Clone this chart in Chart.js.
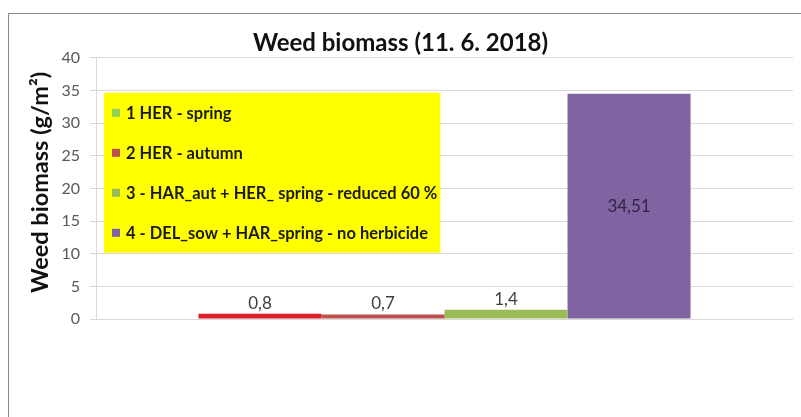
<!DOCTYPE html>
<html>
<head>
<meta charset="utf-8">
<script src="https://cdn.jsdelivr.net/npm/chart.js@4"></script>
<style>
html,body{margin:0;padding:0;background:#fff;}
#wrap{width:801px;height:417px;position:relative;}
</style>
</head>
<body>
<div id="wrap"><canvas id="c" width="801" height="417"></canvas></div>
<script>
const chartTitle = 'Weed biomass (11. 6. 2018)';
const yAxisTitle = 'Weed biomass (g/m²)';
const categories = [''];
const seriesNames = [
  '1 HER - spring',
  '2 HER - autumn',
  '3 - HAR_aut + HER_ spring - reduced 60 %',
  '4 - DEL_sow + HAR_spring - no herbicide'
];
const seriesValues = [0.8, 0.7, 1.4, 34.51];
const valueLabels = ['0,8', '0,7', '1,4', '34,51'];
const barColors = ['#dc1f26', '#c0504d', '#9bbb59', '#8064a2'];
const legendColors = ['#92d050', '#c0504d', '#9bbb59', '#8064a2'];
const yTicks = [0, 5, 10, 15, 20, 25, 30, 35, 40];

const FONT = 'Lato, "Open Sans", sans-serif';

const frame = {
  id: 'frame',
  beforeDraw(chart) {
    const ctx = chart.ctx;
    ctx.save();
    ctx.fillStyle = '#fff';
    ctx.fillRect(0, 0, chart.width, chart.height);
    ctx.strokeStyle = '#8a8a8a';
    ctx.lineWidth = 1;
    ctx.beginPath();
    ctx.moveTo(8.5, chart.height);
    ctx.lineTo(8.5, 13.5);
    ctx.lineTo(chart.width, 13.5);
    ctx.stroke();
    ctx.restore();
  }
};

const yTitlePlugin = {
  id: 'yTitle',
  afterDraw(chart) {
    const ctx = chart.ctx;
    ctx.save();
    ctx.font = 'bold 23.5px ' + FONT;
    ctx.fillStyle = '#111';
    ctx.textAlign = 'center';
    ctx.textBaseline = 'middle';
    ctx.translate(40, (chart.chartArea.top + chart.chartArea.bottom) / 2 - 6);
    ctx.rotate(-Math.PI / 2);
    ctx.fillText(yAxisTitle, 0, 0);
    ctx.restore();
  }
};

const boxLegend = {
  id: 'boxLegend',
  afterDatasetsDraw(chart) {
    const ctx = chart.ctx;
    const a = chart.chartArea;
    ctx.save();
    ctx.font = 'bold 16.5px ' + FONT;
    let maxW = 0;
    chart.data.datasets.forEach(ds => { maxW = Math.max(maxW, ctx.measureText(ds.label).width); });
    const bx = a.left + 8, by = a.top + 35, bw = 22 + maxW + 3, bh = 160;
    ctx.fillStyle = '#ffff00';
    ctx.fillRect(bx, by, bw, bh);
    ctx.textBaseline = 'middle';
    ctx.textAlign = 'left';
    chart.data.datasets.forEach((ds, i) => {
      const cy = by + 20 + i * 40;
      ctx.fillStyle = legendColors[i];
      ctx.fillRect(bx + 8, cy - 4, 8, 8);
      ctx.fillStyle = '#1a1a1a';
      ctx.fillText(ds.label, bx + 22, cy + 1);
    });
    ctx.restore();
  }
};

const valueLabelPlugin = {
  id: 'valueLabels',
  afterDatasetsDraw(chart) {
    const ctx = chart.ctx;
    ctx.save();
    ctx.font = '17px ' + FONT;
    ctx.textAlign = 'center';
    chart.data.datasets.forEach((ds, i) => {
      const el = chart.getDatasetMeta(i).data[0];
      const h = el.base - el.y;
      if (h > 40) {
        ctx.fillStyle = '#2e2540';
        ctx.textBaseline = 'middle';
        ctx.fillText(valueLabels[i], el.x, (el.y + el.base) / 2);
      } else {
        ctx.fillStyle = '#404040';
        ctx.textBaseline = 'bottom';
        ctx.fillText(valueLabels[i], el.x, el.y - 2);
      }
    });
    ctx.restore();
  }
};

new Chart(document.getElementById('c'), {
  type: 'bar',
  data: {
    labels: categories,
    datasets: seriesNames.map((name, i) => ({
      label: name,
      data: [seriesValues[i]],
      backgroundColor: barColors[i],
      borderWidth: 0,
      categoryPercentage: 0.706,
      barPercentage: 1.0
    }))
  },
  options: {
    responsive: false,
    animation: false,
    devicePixelRatio: 1,
    layout: { padding: { left: 8, right: 8, top: 13, bottom: 98 } },
    plugins: {
      legend: { display: false },
      tooltip: { enabled: false },
      title: {
        display: true,
        text: chartTitle,
        color: '#111',
        font: { family: FONT, size: 24, weight: 'bold', lineHeight: 1.2 },
        padding: { top: 16, bottom: 0 }
      }
    },
    scales: {
      x: { display: false },
      y: {
        min: 0,
        max: 40,
        afterBuildTicks(scale) { scale.ticks = yTicks.map(v => ({ value: v })); },
        afterFit(scale) { scale.width = 88; },
        ticks: {
          color: '#595959',
          font: { family: FONT, size: 16 },
          padding: 10
        },
        grid: { color: '#d9d9d9', lineWidth: 1, tickLength: 6, drawTicks: true },
        border: { color: '#d9d9d9', width: 1 },
        title: { display: false }
      }
    }
  },
  plugins: [frame, yTitlePlugin, boxLegend, valueLabelPlugin]
});
</script>
</body>
</html>
